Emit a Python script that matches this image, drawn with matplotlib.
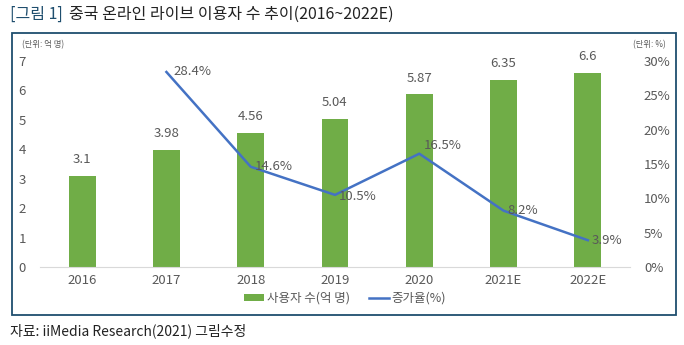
import matplotlib
matplotlib.use("Agg")
import matplotlib.pyplot as plt
from matplotlib.patches import Rectangle, Patch
from matplotlib.lines import Line2D

plt.rcParams['font.family'] = ['Noto Sans CJK KR', 'DejaVu Sans']

years = ['2016', '2017', '2018', '2019', '2020', '2021E', '2022E']
users = [3.1, 3.98, 4.56, 5.04, 5.87, 6.35, 6.6]
growth_years = ['2017', '2018', '2019', '2020', '2021E', '2022E']
growth = [28.4, 14.6, 10.5, 16.5, 8.2, 3.9]
left_ticks = [0, 1, 2, 3, 4, 5, 6, 7]
right_ticks = [0, 5, 10, 15, 20, 25, 30]

bar_color = '#70AD47'
line_color = '#4472C4'
text_gray = '#595959'
frame_color = '#1F4E6E'

fig = plt.figure(figsize=(6.84, 3.45), dpi=100)
W, H = 684, 345

def px(x0, y0, x1, y1):
    return [x0 / W, 1 - y1 / H, (x1 - x0) / W, (y1 - y0) / H]

# outer frame
fig.patches.append(Rectangle((12 / W, 1 - 315 / H), (676 - 12) / W, (315 - 33) / H,
                             transform=fig.transFigure, fill=False,
                             edgecolor=frame_color, linewidth=1.3))

ax = fig.add_axes(px(40, 61, 630, 267))
x = list(range(len(years)))
ax.bar(x, users, width=0.32, color=bar_color, zorder=2)
ax.set_xlim(-0.5, len(years) - 0.5)
ax.set_ylim(0, 7)
ax.set_yticks(left_ticks)
ax.set_yticklabels([str(t) for t in left_ticks])
ax.set_xticks(x)
ax.set_xticklabels(years)
for s in ['top', 'right', 'left']:
    ax.spines[s].set_visible(False)
ax.spines['bottom'].set_color('#D9D9D9')
ax.tick_params(axis='both', length=0, colors=text_gray, labelsize=9.5)
ax.tick_params(axis='y', pad=10)
ax.tick_params(axis='x', pad=5)
for xi, v in zip(x, users):
    ax.annotate(f'{v:g}', (xi, v), xytext=(0, 7), textcoords='offset points',
                ha='center', va='bottom', fontsize=9.5, color=text_gray)

ax2 = ax.twinx()
gx = [years.index(g) for g in growth_years]
ax2.plot(gx, growth, color=line_color, linewidth=1.8, zorder=3)
ax2.set_ylim(0, 30)
ax2.set_yticks(right_ticks)
ax2.set_yticklabels([f'{t}%' for t in right_ticks])
for s in ['top', 'right', 'left', 'bottom']:
    ax2.spines[s].set_visible(False)
ax2.tick_params(axis='y', length=0, colors=text_gray, labelsize=9.5, pad=10)
label_offsets = {28.4: (5, 0), 14.6: (3, 0), 10.5: (3, -1), 16.5: (3, 6), 8.2: (3, 0), 3.9: (3, 0)}
for xi, v in zip(gx, growth):
    dx, dy = label_offsets.get(v, (3, 0))
    ax2.annotate(f'{v}%', (xi, v), xytext=(dx, dy), textcoords='offset points',
                 ha='left', va='center', fontsize=9.5, color=text_gray)

# unit labels
fig.text(22 / W, 1 - 45 / H, '(단위: 억 명)', fontsize=6, color=text_gray, va='center', ha='left')
fig.text(666 / W, 1 - 45 / H, '(단위: %)', fontsize=6, color=text_gray, va='center', ha='right')

# legend
handles = [Patch(facecolor=bar_color, label='사용자 수(억 명)'),
           Line2D([0], [0], color=line_color, lw=1.8, label='증가율(%)')]
fig.legend(handles=handles, loc='center', bbox_to_anchor=(345 / W, 1 - 298 / H), ncol=2,
           frameon=False, fontsize=9, handlelength=1.6, handleheight=0.5,
           columnspacing=1.5, handletextpad=0.2, labelcolor=text_gray,
           borderpad=0.1)

# title
t1 = fig.text(10 / W, 1 - 14 / H, '[그림 1]', fontsize=11.5, color=frame_color,
              va='center', ha='left')
fig.canvas.draw()
bb = t1.get_window_extent()
fig.text((bb.x1 + 6) / W, 1 - 14 / H, '중국 온라인 라이브 이용자 수 추이(2016~2022E)',
         fontsize=11.5, color='#222222', va='center', ha='left')

fig.text(10 / W, 1 - 331 / H, '자료: iiMedia Research(2021) 그림수정', fontsize=10,
         color='#222222', va='center', ha='left')

fig.savefig('out.png', dpi=100)
